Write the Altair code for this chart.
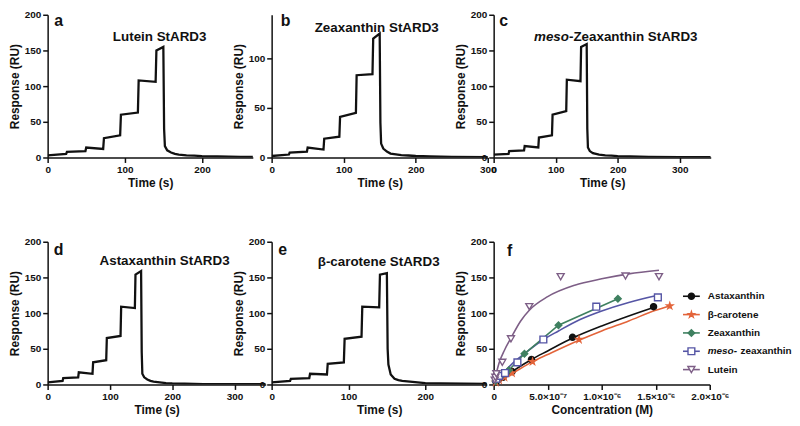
import altair as alt
import pandas as pd

FONT = "Liberation Sans"
INK = "#111111"

# ---------------- sensorgram data (time in s, response in RU) ----------------
time_s = [0, 24, 25, 49, 50, 72, 73, 94, 95, 117, 118, 140, 141, 150, 151, 152,
          155, 160, 165, 170, 180, 190, 200, 220, 250, 300, 350]
lutein_ru = [3, 5, 8, 9, 14, 12, 27, 31, 60, 63, 108, 106, 150, 155, 40, 16,
             10, 7, 5, 4, 3, 2.5, 2, 1.5, 1, 0.5, 0.5]
zeax_ru = [1.5, 3, 5, 6, 10, 8, 19, 21, 41, 45, 83, 84, 120, 125, 35, 14,
           9, 6, 4, 3.5, 2.5, 2, 1.5, 1, 0.5, 0.3, 0.3]
meso_ru = [4, 5, 9, 10, 16, 14, 28, 31, 60, 65, 109, 107, 155, 159, 40, 14,
           9, 6, 5, 4, 3, 2.5, 2, 1.5, 1, 0.5, 0.5]
astax_ru = [3, 5, 9, 10, 17, 15, 31, 34, 65, 68, 109, 107, 154, 159, 45, 15,
            10, 7, 5, 4, 3, 2, 1.5, 1, 0.5, 0.3, 0.3]
bcar_ru = [3, 5, 8, 9, 15, 14, 29, 31, 64, 67, 109, 108, 154, 156, 50, 28,
           14, 8, 6, 5, 4, 3, 2, 1.5, 1, 0.5, 0.5]

# ---------------- binding data (panel f) ----------------
series_names = ["Astaxanthin", "β-carotene", "Zeaxanthin", "meso- zeaxanthin", "Lutein"]
series_colors = ["#111111", "#e3643a", "#3f8060", "#5555a5", "#7d5e86"]
series_fills = ["#111111", "#e3643a", "#3f8060", "#ffffff", "#ffffff"]
STAR = ("M0,-1L0.225,-0.309L0.951,-0.309L0.363,0.118L0.588,0.809L0,0.382"
        "L-0.588,0.809L-0.363,0.118L-0.951,-0.309L-0.225,-0.309Z")
series_shapes = ["circle", STAR, "diamond", "square", "triangle-down"]
series_sizes = [38, 50, 45, 40, 62]

astax_conc = [2e-8, 4e-8, 8.5e-8, 1.7e-7, 3.5e-7, 7.3e-7, 1.48e-6]
astax_resp = [4, 6, 10, 18, 35, 66, 109]
bcar_conc = [2e-8, 5e-8, 1e-7, 1.7e-7, 3.6e-7, 7.9e-7, 1.63e-6]
bcar_resp = [3, 6, 10, 16, 32, 63, 110]
zeax_conc = [1.8e-8, 3.6e-8, 7.2e-8, 1.4e-7, 2.85e-7, 6.0e-7, 1.15e-6]
zeax_resp = [5, 8, 12, 20, 43, 83, 120]
meso_conc = [2.5e-8, 5e-8, 1.05e-7, 2.2e-7, 4.6e-7, 9.5e-7, 1.52e-6]
meso_resp = [8, 12, 16, 31, 63, 109, 122]
lutein_conc = [1e-8, 1.6e-8, 2.5e-8, 8e-8, 1.6e-7, 3.3e-7, 6.2e-7, 1.22e-6, 1.53e-6]
lutein_resp = [6, 10, 15, 31, 64, 109, 151, 152, 151]

# fitted curves
astax_fit_conc = [0, 1e-7, 2e-7, 3.5e-7, 5e-7, 7.3e-7, 1e-6, 1.25e-6, 1.5e-6]
astax_fit_resp = [0, 11, 21, 35, 47, 65, 82, 96, 109]
bcar_fit_conc = [0, 1e-7, 2e-7, 3.6e-7, 5e-7, 7.9e-7, 1e-6, 1.25e-6, 1.5e-6, 1.63e-6]
bcar_fit_resp = [0, 9, 18, 32, 42, 62, 75, 89, 104, 110]
meso_fit_conc = [0, 1e-7, 2e-7, 3e-7, 4.5e-7, 6e-7, 8e-7, 1e-6, 1.25e-6, 1.52e-6]
meso_fit_resp = [0, 18, 33, 45, 62, 75, 91, 103, 115, 125]
lutein_fit_conc = [0, 2.5e-8, 5e-8, 1e-7, 1.6e-7, 2.5e-7, 3.3e-7, 5e-7, 7.5e-7, 1e-6, 1.25e-6, 1.53e-6]
lutein_fit_resp = [0, 16, 30, 48, 65, 89, 104, 123, 139, 148, 155, 160]

conc_ticks = [0, 5e-7, 1e-6, 1.5e-6, 2e-6]
conc_tick_labels = ["0", "5.0×10⁻⁷", "1.0×10⁻⁶", "1.5×10⁻⁶", "2.0×10⁻⁶"]

PANEL_H = 144


def label(text, x, y, size, italic=False, align="center"):
    return alt.Chart(pd.DataFrame({"s": [text]})).mark_text(
        font=FONT, fontSize=size, fontWeight="bold",
        fontStyle="italic" if italic else "normal",
        align=align, baseline="alphabetic", color=INK,
    ).encode(x=alt.value(x), y=alt.value(y), text="s:N")


def sensor_panel(ru, x_max, x_ticks, y_max, y_ticks, width, annotations):
    df = pd.DataFrame({"t": time_s, "r": ru})
    line = alt.Chart(df).mark_line(color=INK, strokeWidth=2.3, clip=True).encode(
        x=alt.X("t:Q", scale=alt.Scale(domain=[0, x_max], nice=False, zero=False),
                axis=alt.Axis(values=x_ticks, title="Time (s)")),
        y=alt.Y("r:Q", scale=alt.Scale(domain=[0, y_max], nice=False),
                axis=alt.Axis(values=y_ticks, title="Response (RU)")),
    )
    return alt.layer(line, *annotations).properties(width=width, height=PANEL_H)


y200 = [0, 50, 100, 150, 200]

pa = sensor_panel(lutein_ru, 266, [0, 100, 200], 200, y200, 207, [
    label("a", 11, 11, 16), label("Lutein StARD3", 113, 26, 13.5)])
pb = sensor_panel(zeax_ru, 300, [0, 100, 200, 300], 144, [0, 50, 100], 218, [
    label("b", 14, 11, 16), label("Zeaxanthin StARD3", 106, 17, 13.5)])
pc = sensor_panel(meso_ru, 350, [0, 100, 200, 300], 200, y200, 219, [
    label("c", 10, 11, 16),
    label("meso", 76, 26, 13.5, italic=True, align="right"),
    label("-Zeaxanthin StARD3", 76, 26, 13.5, align="left")])
pd_ = sensor_panel(astax_ru, 350, [0, 100, 200, 300], 200, y200, 220, [
    label("d", 11, 13, 16), label("Astaxanthin StARD3", 118, 23, 13.5)])
pe = sensor_panel(bcar_ru, 280, [0, 100, 200], 200, y200, 217, [
    label("e", 11, 13, 16), label("β-carotene StARD3", 108, 24, 13.5)])

# ---------------- panel f ----------------
def long(name, xs, ys):
    return pd.DataFrame({"series": name, "c": xs, "r": ys})

pts_df = pd.concat([
    long(series_names[0], astax_conc, astax_resp),
    long(series_names[1], bcar_conc, bcar_resp),
    long(series_names[2], zeax_conc, zeax_resp),
    long(series_names[3], meso_conc, meso_resp),
    long(series_names[4], lutein_conc, lutein_resp),
], ignore_index=True)
fit_df = pd.concat([
    long(series_names[0], astax_fit_conc, astax_fit_resp),
    long(series_names[1], bcar_fit_conc, bcar_fit_resp),
    long(series_names[3], meso_fit_conc, meso_fit_resp),
    long(series_names[4], lutein_fit_conc, lutein_fit_resp),
], ignore_index=True)
zeax_df = long(series_names[2], zeax_conc, zeax_resp)

label_expr = " : ".join(
    f"abs(datum.value - {v}) < 1e-10 ? '{t}'" for v, t in zip(conc_ticks, conc_tick_labels)
) + " : ''"

xf = alt.X("c:Q", scale=alt.Scale(domain=[0, 2e-6], nice=False, zero=False),
           axis=alt.Axis(values=conc_ticks, labelExpr=label_expr, title="Concentration (M)"))
yf = alt.Y("r:Q", scale=alt.Scale(domain=[0, 200], nice=False),
           axis=alt.Axis(values=y200, title="Response (RU)"))
stroke_enc = alt.Stroke("series:N", scale=alt.Scale(domain=series_names, range=series_colors), legend=None)
fill_enc = alt.Fill("series:N", scale=alt.Scale(domain=series_names, range=series_fills), legend=None)
shape_enc = alt.Shape("series:N", scale=alt.Scale(domain=series_names, range=series_shapes), legend=None)
size_enc = alt.Size("series:N", scale=alt.Scale(domain=series_names, range=series_sizes), legend=None)

fit_lines = alt.Chart(fit_df).mark_line(interpolate="monotone", strokeWidth=1.6).encode(
    x=xf, y=yf, stroke=stroke_enc, detail="series:N")
zeax_line = alt.Chart(zeax_df).mark_line(strokeWidth=1.6).encode(x=xf, y=yf, stroke=stroke_enc)
pts = alt.Chart(pts_df).mark_point(filled=True, opacity=1, strokeWidth=1.4).encode(
    x=xf, y=yf, stroke=stroke_enc, fill=fill_enc, shape=shape_enc, size=size_enc)
main_f = alt.layer(fit_lines, zeax_line, pts, label("f", 16, 14, 16))

leg_df = pd.DataFrame({"series": series_names, "row": list(range(len(series_names)))})
ly = alt.Y("row:Q", scale=alt.Scale(domain=[0, len(series_names) - 1], range=[55, 129]), axis=None)
leg_rule = alt.Chart(leg_df).mark_rule(strokeWidth=1.6).encode(
    x=alt.value(191), x2=alt.value(208), y=ly, stroke=stroke_enc)
leg_pts = alt.Chart(leg_df).mark_point(filled=True, opacity=1, strokeWidth=1.4).encode(
    x=alt.value(199.5), y=ly, stroke=stroke_enc, fill=fill_enc, shape=shape_enc, size=size_enc)
text_style = dict(font=FONT, fontSize=10, fontWeight="bold", align="left", baseline="middle", color=INK)
plain = leg_df[leg_df["series"] != series_names[3]]
meso_row = leg_df[leg_df["series"] == series_names[3]]
leg_text = alt.Chart(plain).mark_text(**text_style).encode(x=alt.value(216), y=ly, text="series:N")
leg_meso1 = alt.Chart(meso_row).mark_text(fontStyle="italic", **text_style).encode(
    x=alt.value(216), y=ly, text=alt.value("meso-"))
leg_meso2 = alt.Chart(meso_row).mark_text(**text_style).encode(
    x=alt.value(249), y=ly, text=alt.value("zeaxanthin"))
legend_f = alt.layer(leg_rule, leg_pts, leg_text, leg_meso1, leg_meso2)

pf = alt.layer(main_f, legend_f).resolve_scale(y="independent").properties(width=218, height=PANEL_H)

chart = alt.concat(
    pa, pb, pc, pd_, pe, pf,
    columns=3, align="none", bounds="flush", spacing={"row": 85, "column": 6},
).properties(padding=0).configure_view(stroke=None).configure_axis(
    grid=False, domainColor=INK, domainWidth=1.5, tickColor=INK, tickWidth=1.5, tickSize=5,
    labelFont=FONT, labelFontWeight="bold", labelFontSize=10, labelColor=INK, labelPadding=2,
    labelFlush=False, labelOverlap=False,
    titleFont=FONT, titleFontWeight="bold", titleFontSize=12, titleColor=INK, titlePadding=3,
)

chart.save("out.html", embed_options={"renderer": "svg", "actions": False})
